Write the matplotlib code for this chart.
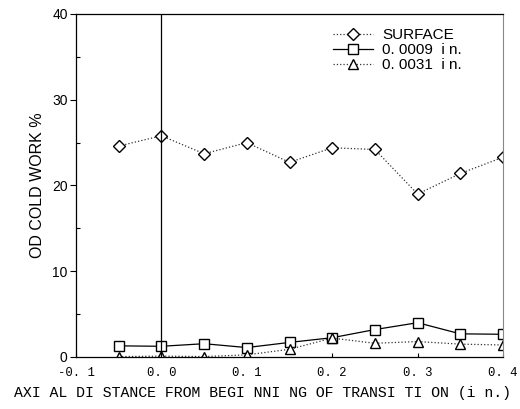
import matplotlib
matplotlib.use("Agg")
import matplotlib.pyplot as plt
from matplotlib.ticker import MultipleLocator

x = [-0.05, 0.0, 0.05, 0.1, 0.15, 0.2, 0.25, 0.3, 0.35, 0.4]
surface = [24.6, 25.8, 23.7, 25.0, 22.7, 24.4, 24.2, 19.0, 21.4, 23.3]
d0009 = [1.3, 1.25, 1.55, 1.1, 1.7, 2.25, 3.2, 4.0, 2.7, 2.65]
d0031 = [0.05, 0.1, 0.05, 0.25, 0.9, 2.2, 1.6, 1.8, 1.5, 1.4]
xticks = [-0.1, 0.0, 0.1, 0.2, 0.3, 0.4]
xticklabels = ["-0. 1", "0. 0", "0. 1", "0. 2", "0. 3", "0. 4"]
yticks = [0, 10, 20, 30, 40]
labels = ["SURFACE", "0. 0009  i n.", "0. 0031  i n."]

fig = plt.figure(figsize=(5.2, 4.09), dpi=100)
ax = fig.add_axes([76/520, 1-357/409, (503-76)/520, (357-14)/409])

ax.plot(x, surface, linestyle=':', color='#333333', lw=0.9, marker='D', ms=6,
        mfc='white', mec='black', mew=1.0, label=labels[0])
ax.plot(x, d0009, linestyle='-', color='black', lw=0.9, marker='s', ms=7,
        mfc='white', mec='black', mew=1.0, label=labels[1])
ax.plot(x, d0031, linestyle=':', color='#333333', lw=0.9, marker='^', ms=7.5,
        mfc='white', mec='black', mew=1.0, label=labels[2])
ax.axvline(0.0, color='black', lw=0.9)

ax.set_xlim(-0.1, 0.4)
ax.set_ylim(0, 40)
ax.set_xticks(xticks)
ax.set_xticklabels(xticklabels, family='Liberation Mono', fontsize=8.8)
ax.set_yticks(yticks)
ax.set_yticklabels([str(v) for v in yticks], family='Liberation Sans', fontsize=10)
ax.yaxis.set_minor_locator(MultipleLocator(5))
ax.tick_params(axis='y', which='major', direction='out', length=4, width=0.8, pad=2)
ax.tick_params(axis='y', which='minor', direction='in', length=3, width=0.8)
ax.tick_params(axis='x', which='major', direction='in', length=3, width=0.8, pad=7.5)
ax.spines['right'].set_color('#888888')
for s in ['left', 'top', 'bottom']:
    ax.spines[s].set_linewidth(0.9)

fig.text(14/520, 1-393/409, "AXI AL DI STANCE FROM BEGI NNI NG OF TRANSI TI ON (i n.)",
         family='Liberation Mono', fontsize=10.7, ha='left', va='center')
ax.set_ylabel("OD COLD WORK %", family='Liberation Sans', fontsize=11.5, labelpad=5)

leg = ax.legend(loc='upper left', bbox_to_anchor=(0.602, 0.958), frameon=False,
                prop={'family': 'Liberation Sans', 'size': 11},
                handlelength=2.6, handletextpad=0.6, labelspacing=0.05,
                borderaxespad=0.0, borderpad=0.0)

fig.savefig("out.png", dpi=100)
